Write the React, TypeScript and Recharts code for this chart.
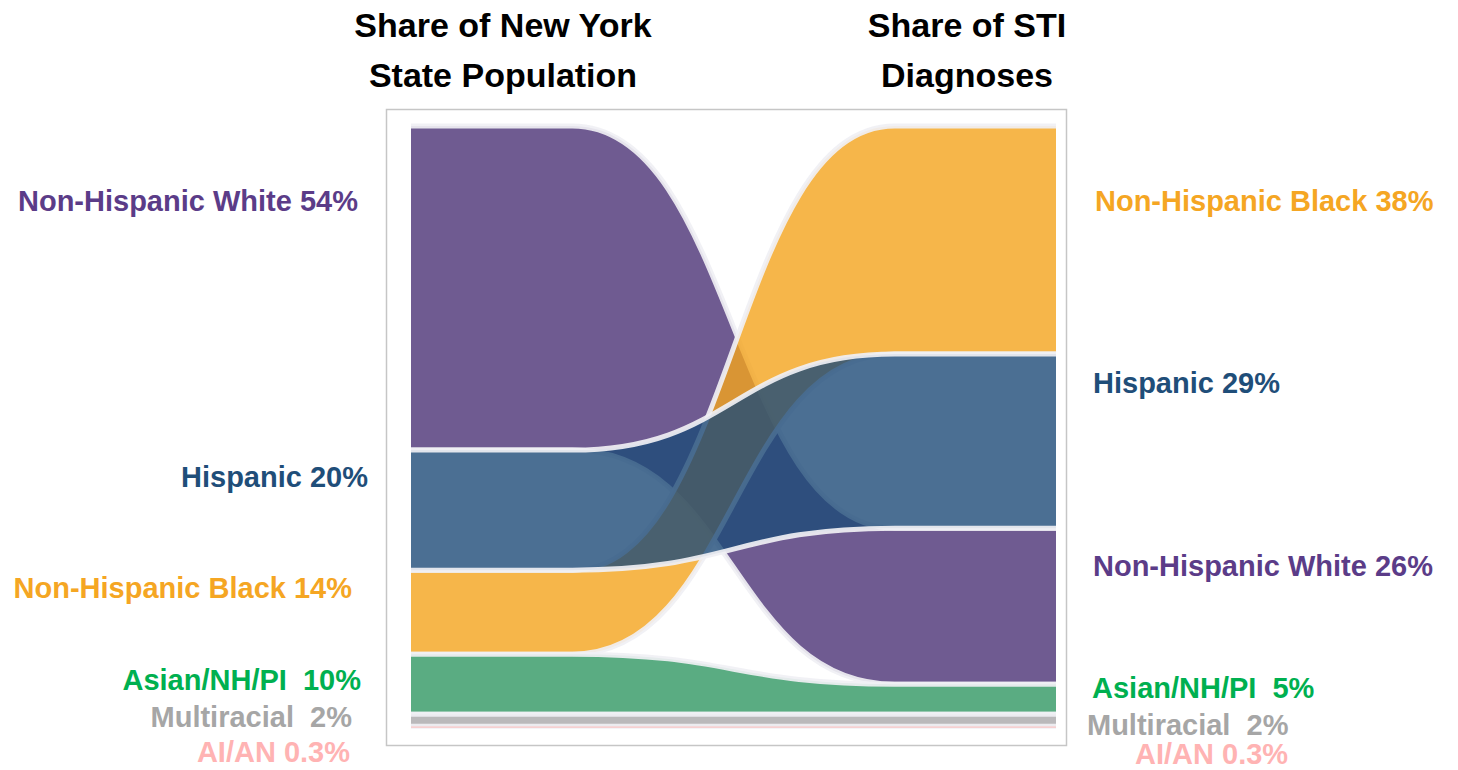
import React from "react";
import { AreaChart, Area, XAxis, YAxis, LabelList } from "recharts";

// ---------- data ----------
const groups = ["Non-Hispanic White", "Hispanic", "Non-Hispanic Black", "Asian/NH/PI", "Multiracial", "AI/AN"];
const populationShare = [54, 20, 14, 10, 2, 0.3]; // Share of New York State Population
const stiShare = [26, 29, 38, 5, 2, 0.3]; // Share of STI Diagnoses
const leftOrder = [0, 1, 2, 3, 4, 5]; // stacking order top -> bottom (population)
const rightOrder = [2, 1, 0, 3, 4, 5]; // stacking order top -> bottom (STI)
const labelSeparator = [" ", " ", " ", "\u00A0 ", "\u00A0 ", " "];
const titleLeft = ["Share of New York", "State Population"];
const titleRight = ["Share of STI", "Diagnoses"];

// ---------- style / layout ----------
const bandColors = ["#4B3276", "#1E4B78", "#F4A41D", "#319763", "#A9A7AA", "#F7C8C8"];
const textColors = ["#5B3C88", "#1F4E79", "#F5A623", "#00B050", "#A6A6A6", "#FFB3B3"];
const drawOrder = [0, 2, 1, 3, 4, 5];
const stages = [0, 0.25, 0.75, 1]; // flat – transition – flat
const leftLabelOffset = [[-53, 85], [-43, 37], [-59, 28], [-50, 36], [-59, 13], [-61, 36]];
const rightLabelOffset = [[37, 48], [37, 39], [39, 85], [36, 14], [31, 21], [79, 38]];
const FONT = "'Liberation Sans', Arial, Helvetica, sans-serif";
const total = populationShare.reduce((a, b) => a + b, 0);

function ranges(values: number[], order: number[]) {
  const out: { start: number; end: number }[] = [];
  let acc = 0;
  order.forEach((gi) => {
    out[gi] = { start: acc, end: acc + values[gi] };
    acc += values[gi];
  });
  return out;
}
const leftRanges = ranges(populationShare, leftOrder);
const rightRanges = ranges(stiShare, rightOrder);

const data = stages.map((x, i) => {
  const side = i < 2 ? leftRanges : rightRanges;
  const row: any = { x };
  groups.forEach((_, gi) => {
    row["g" + gi] = [side[gi].end, side[gi].start];
  });
  return row;
});

const makeLabel = (gi: number) => (props: any) => {
  const x = props.x ?? props.viewBox?.x;
  const y = props.y ?? props.viewBox?.y;
  const index = props.index;
  if (x == null || y == null) return null;
  const isLeft = index != null ? index === 0 : x < 500;
  const isRight = index != null ? index === stages.length - 1 : x > 1000;
  if (!isLeft && !isRight) return null;
  const value = isLeft ? populationShare[gi] : stiShare[gi];
  const [dx, dy] = isLeft ? leftLabelOffset[gi] : rightLabelOffset[gi];
  return (
    <text
      key={`lbl-${gi}-${index}`}
      x={x + dx}
      y={y + dy}
      textAnchor={isLeft ? "end" : "start"}
      fill={textColors[gi]}
      fontFamily={FONT}
      fontWeight={700}
      fontSize={29}
    >
      {groups[gi] + labelSeparator[gi] + value + "%"}
    </text>
  );
};

export default function App() {
  return (
    <div style={{ position: "absolute", left: 0, top: 0, width: 1458, height: 770, background: "#fff" }}>
      <svg width={1458} height={770} style={{ position: "absolute", left: 0, top: 0 }}>
        <rect x={386.5} y={109.5} width={680} height={636} fill="#fff" stroke="#c6c6c6" strokeWidth={1.5} />
        {titleLeft.map((t, i) => (
          <text key={"tl" + i} x={503} y={37 + i * 50} textAnchor="middle" fontFamily={FONT} fontWeight={700} fontSize={34} fill="#000">
            {t}
          </text>
        ))}
        {titleRight.map((t, i) => (
          <text key={"tr" + i} x={967} y={37 + i * 50} textAnchor="middle" fontFamily={FONT} fontWeight={700} fontSize={34} fill="#000">
            {t}
          </text>
        ))}
      </svg>
      <div style={{ position: "absolute", left: 0, top: 0 }}>
        <AreaChart width={1458} height={770} data={data} margin={{ top: 126, bottom: 42, left: 411, right: 402 }}>
          <XAxis dataKey="x" type="number" domain={[0, 1]} hide />
          <YAxis type="number" domain={[0, total]} reversed hide allowDataOverflow={false} />
          {drawOrder.map((gi) => (
            <Area
              key={gi}
              dataKey={"g" + gi}
              type="bumpX"
              fill={bandColors[gi]}
              fillOpacity={0.8}
              stroke={gi === 5 ? "none" : "#f0f0f4"}
              strokeOpacity={0.92}
              strokeWidth={5}
              isAnimationActive={false}
              dot={false}
              activeDot={false}
            >
              <LabelList dataKey={"g" + gi} content={makeLabel(gi)} />
            </Area>
          ))}
        </AreaChart>
      </div>
    </div>
  );
}
